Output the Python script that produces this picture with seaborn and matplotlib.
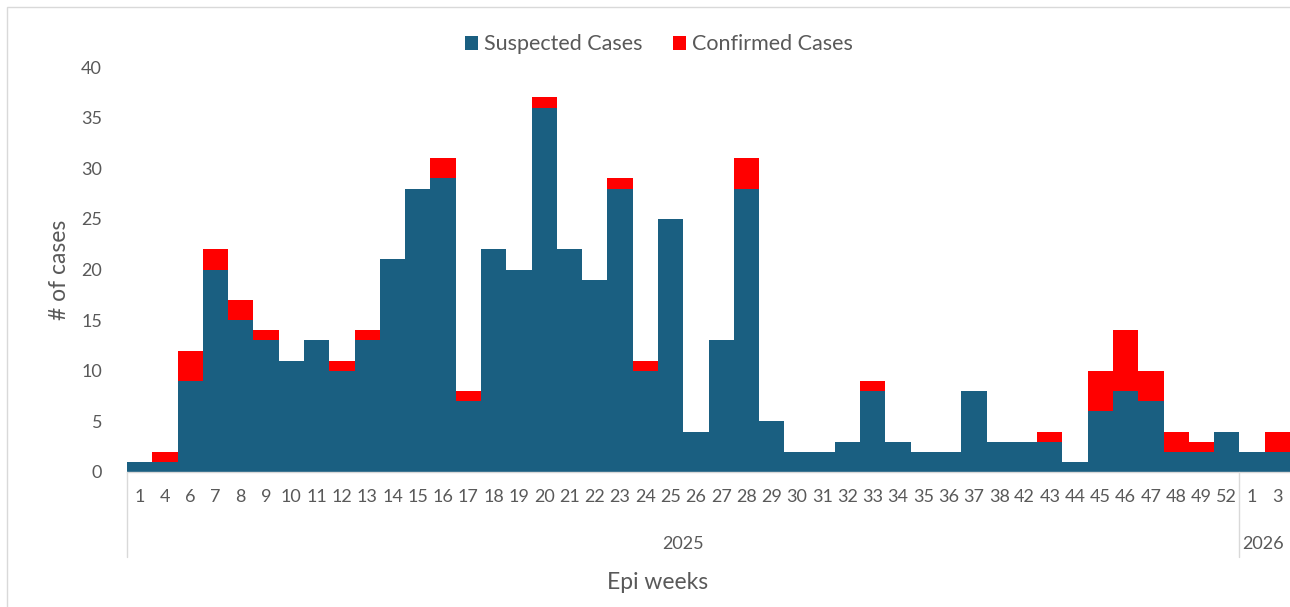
import pandas as pd
import seaborn as sns
import matplotlib.pyplot as plt
from matplotlib.patches import Rectangle

# epi weeks as shown on the axis (2025 weeks, then 2026 weeks)
weeks_2025 = ["1", "4", "6", "7", "8", "9", "10", "11", "12", "13", "14", "15", "16",
              "17", "18", "19", "20", "21", "22", "23", "24", "25", "26", "27", "28",
              "29", "30", "31", "32", "33", "34", "35", "36", "37", "38", "42", "43",
              "44", "45", "46", "47", "48", "49", "52"]
weeks_2026 = ["1", "3"]

suspected = [1, 1, 9, 20, 15, 13, 11, 13, 10, 13, 21, 28, 29,
             7, 22, 20, 36, 22, 19, 28, 10, 25, 4, 13, 28,
             5, 2, 2, 3, 8, 3, 2, 2, 8, 3, 3, 3,
             1, 6, 8, 7, 2, 2, 4,
             2, 2]
confirmed = [0, 1, 3, 2, 2, 1, 0, 0, 1, 1, 0, 0, 2,
             1, 0, 0, 1, 0, 0, 1, 1, 0, 0, 0, 3,
             0, 0, 0, 0, 1, 0, 0, 0, 0, 0, 0, 1,
             0, 4, 6, 3, 2, 1, 0,
             0, 2]

BLUE = "#1a5f81"
RED = "#ff0000"
TEXT = "#595959"
GRID = "#d9d9d9"

labels = weeks_2025 + weeks_2026
df = pd.DataFrame({
    "pos": range(len(labels)),
    "week": labels,
    "suspected": suspected,
    "confirmed": confirmed,
})
df["total"] = df["suspected"] + df["confirmed"]

sns.set_theme(style="white")
plt.rcParams["font.family"] = ["Lato", "DejaVu Sans"]

fig = plt.figure(figsize=(12.9, 6.07), dpi=100)
ax = fig.add_axes([127 / 1290, 1 - 472 / 607, 1 - 127 / 1290, (472 - 67) / 607])

# stacked look: total (red) first, suspected (blue) on top of it
sns.barplot(data=df, x="pos", y="total", color=RED, width=1.0, saturation=1,
            linewidth=0, ax=ax, label="Confirmed Cases")
sns.barplot(data=df, x="pos", y="suspected", color=BLUE, width=1.0, saturation=1,
            linewidth=0, ax=ax, label="Suspected Cases")

ax.set_xlim(-0.5, len(labels) - 0.5)
ax.set_ylim(0, 40)
ax.set_yticks(range(0, 41, 5))
ax.set_xticks(df["pos"])
ax.set_xticklabels(df["week"])
ax.tick_params(axis="both", length=0, labelsize=13, colors=TEXT)
ax.tick_params(axis="y", pad=18)
ax.tick_params(axis="x", pad=12)
ax.set_xlabel("")
ax.set_ylabel("")
for side in ["top", "right", "left"]:
    ax.spines[side].set_visible(False)
ax.spines["bottom"].set_color(GRID)
ax.spines["bottom"].set_linewidth(1)

# year grouping below the week labels
trans = ax.get_xaxis_transform()
n25 = len(weeks_2025)
for xsep in [-0.5, n25 - 0.5]:
    ax.plot([xsep, xsep], [0, -0.21], transform=trans, color=GRID, lw=1,
            clip_on=False)
ax.text((n25 - 1) / 2, -0.178, "2025", transform=trans, ha="center", va="center",
        fontsize=13, color=TEXT)
ax.text(n25 - 0.5 + 0.12, -0.178, "2026", transform=trans, ha="left", va="center",
        fontsize=13, color=TEXT)

fig.text(0.0465, 0.555, "# of cases", rotation=90, ha="center", va="center",
         fontsize=16.5, color=TEXT)
fig.text(0.51, 0.041, "Epi weeks", ha="center", va="center", fontsize=16.5,
         color=TEXT)

handles, texts = ax.get_legend_handles_labels()
order = [texts.index("Suspected Cases"), texts.index("Confirmed Cases")]
fig.legend([handles[i] for i in order], [texts[i] for i in order],
           loc="center", bbox_to_anchor=(0.511, 0.927), ncol=2, frameon=False,
           fontsize=15.5, labelcolor=TEXT, handlelength=0.6, handleheight=0.6,
           handletextpad=0.3, columnspacing=1.4)
if ax.get_legend() is not None:
    ax.get_legend().remove()

# thin frame around the chart area, cropped on the right and bottom
fig.add_artist(Rectangle((7 / 1290, -0.1), 1.2, 1 - 7 / 607 + 0.1,
                         transform=fig.transFigure, fill=False, ec=GRID, lw=1))

fig.savefig("out.png", dpi=100)
